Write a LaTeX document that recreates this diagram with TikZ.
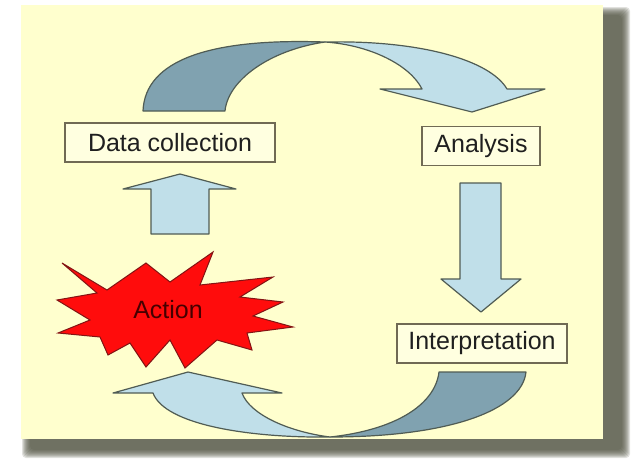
\documentclass[tikz,border=0pt]{standalone}
\usepackage{fontspec}
\setmainfont{Liberation Sans}
\usepackage{tikz}
\usetikzlibrary{calc}
\usetikzlibrary{positioning}
\definecolor{panel}{RGB}{255,255,206}
\definecolor{shadowc}{RGB}{78,80,62}
\definecolor{ribbon}{RGB}{192,223,233}
\definecolor{ribbondark}{RGB}{128,162,176}
\definecolor{edgec}{RGB}{80,92,84}
\definecolor{boxedge}{RGB}{112,106,84}
\definecolor{boxfill}{RGB}{255,255,224}
\definecolor{burst}{RGB}{255,12,12}
\definecolor{burstedge}{RGB}{130,20,20}
\tikzset{>=latex}
\tikzstyle{stage} = [rectangle, draw=boxedge, fill=boxfill, line width=1.3pt, minimum height=39pt, inner sep=0, text=black!88, font=\fontsize{25}{30}\selectfont]
\tikzstyle{band} = [fill=ribbon, draw=edgec, line width=1.2pt, line join=round]
\tikzstyle{bandback} = [band, fill=ribbondark]

\begin{document}
\begin{tikzpicture}[x=1pt, y=-1pt]
\useasboundingbox (0,0) rectangle (632,459);
% panel with a soft shadow
\foreach \d in {0,...,8}
  \fill[shadowc, opacity=0.17, rounded corners=4pt] (22+\d,7+\d) rectangle (630-\d,458-\d);
\fill[panel] (21,5) rectangle (603,439);

% stages
\node [stage, minimum width=210pt] (dc) at (170,142.5) {Data collection};
\node [stage, minimum width=118pt] (an) at (481,146) {Analysis};
\node [stage, minimum width=170pt] (ip) at (482,343.5) {Interpretation};

% burst behind the action
\filldraw [fill=burst, draw=burstedge, line width=1pt, line join=miter]
  (62,263) -- (107,290) -- (146,263) -- (170,282) -- (213,252) -- (200,285)
  -- (273,277) -- (240,297) -- (283,302) -- (253,316) -- (293,327) -- (247,333)
  -- (252,350) -- (217,340) -- (185,368) -- (170,340) -- (146,367) -- (130,343)
  -- (108,355) -- (100,337) -- (58,333) -- (90,320) -- (57,300) -- (97,293) -- cycle;
\node [draw=none, inner sep=0, text={rgb,255:red,70;green,0;blue,0}, font=\fontsize{25}{30}\selectfont] (act) at (168,310) {Action};

% top ribbon, from data collection to analysis
\draw [bandback] (143,111) .. controls (145,60) and (210,38) .. (325,42)
  .. controls (270,50) and (228,80) .. (225,111) -- cycle;
\draw [band] (325,42) .. controls (420,40) and (490,60) .. (507,89) -- (545,89)
  -- (472,112) -- (380,89) -- (422,89) .. controls (410,65) and (370,45) .. (325,42) -- cycle;

% straight arrows
\draw [band] (460,183) -- (501,183) -- (501,279) -- (521,279) -- (481,312)
  -- (441,279) -- (460,279) -- cycle;
\draw [band] (151,234) -- (151,189) -- (123,189) -- (180,174) -- (236,189)
  -- (209,189) -- (209,234) -- cycle;

% bottom ribbon, from interpretation back to action
\draw [bandback] (526,372) .. controls (522,410) and (450,437) .. (330,437)
  .. controls (395,430) and (435,405) .. (439,372) -- cycle;
\draw [band] (330,437) .. controls (250,438) and (165,425) .. (153,393) -- (113,393)
  -- (188,372) -- (282,393) -- (242,393) .. controls (250,415) and (290,432) .. (330,437) -- cycle;
\end{tikzpicture}
\end{document}
